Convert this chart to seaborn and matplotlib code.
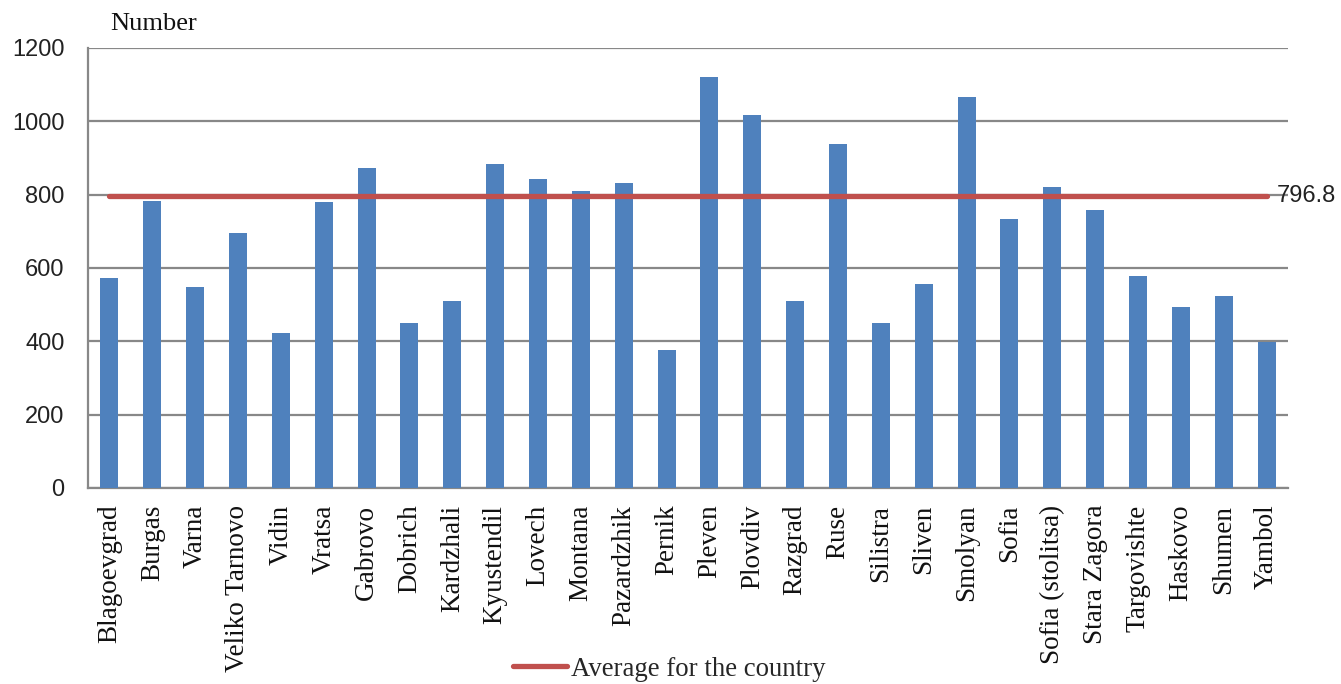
import matplotlib
matplotlib.use("Agg")
import matplotlib.pyplot as plt
import seaborn as sns
import pandas as pd

districts = [
    "Blagoevgrad", "Burgas", "Varna", "Veliko Tarnovo", "Vidin", "Vratsa",
    "Gabrovo", "Dobrich", "Kardzhali", "Kyustendil", "Lovech", "Montana",
    "Pazardzhik", "Pernik", "Pleven", "Plovdiv", "Razgrad", "Ruse",
    "Silistra", "Sliven", "Smolyan", "Sofia", "Sofia (stolitsa)",
    "Stara Zagora", "Targovishte", "Haskovo", "Shumen", "Yambol",
]
values = [
    573, 783, 549, 695, 423, 780, 874, 451, 510, 885, 843, 811,
    832, 377, 1122, 1017, 510, 937, 451, 556, 1066, 734, 821,
    758, 577, 494, 524, 397,
]
country_average = 796.8
y_ticks = [0, 200, 400, 600, 800, 1000, 1200]

df = pd.DataFrame({"district": districts, "value": values})

sns.set_theme(style="white")
plt.rcParams["font.family"] = ["Liberation Serif", "DejaVu Serif"]

fig = plt.figure(figsize=(13.41, 6.84), dpi=100)
ax = fig.add_axes([88 / 1341, 1 - 488 / 684, 1200 / 1341, 440 / 684])

grid_color = "#888888"
bar_color = "#4F81BD"
line_color = "#C0504D"

sns.barplot(data=df, x="district", y="value", color=bar_color, width=0.42,
            saturation=1, ax=ax, zorder=3, edgecolor="none")

ax.plot(range(len(districts)), [country_average] * len(districts),
        color=line_color, lw=3.8, solid_capstyle="round", zorder=4,
        label="Average for the country")

ax.set_xlim(-0.5, len(districts) - 0.5)
ax.set_ylim(0, 1200)
ax.set_yticks(y_ticks)
ax.set_yticklabels([str(t) for t in y_ticks], family="Liberation Sans",
                   fontsize=17, color="#222222")
ax.yaxis.grid(True, color=grid_color, lw=1.6, zorder=0)
ax.xaxis.grid(False)
ax.tick_params(axis="y", length=0, pad=17)
ax.tick_params(axis="x", length=0, pad=12)
ax.set_xticks(range(len(districts)))
ax.set_xticklabels(districts, rotation=90, fontsize=19.5, color="#111111",
                   family="Liberation Serif")
ax.set_xlabel("")
ax.set_ylabel("")

for side in ["top", "right"]:
    ax.spines[side].set_visible(False)
for side in ["left", "bottom"]:
    ax.spines[side].set_color(grid_color)
    ax.spines[side].set_linewidth(1.6)

ax.annotate(f"{country_average:g}", xy=(len(districts) - 1, country_average),
            xytext=(7, 0), textcoords="offset points", ha="left",
            va="center", family="Liberation Sans", fontsize=17,
            color="#222222", annotation_clip=False)

fig.text(110 / 1341, 1 - 24 / 684, "Number", ha="left", va="center",
         fontsize=19, family="Liberation Serif", color="#111111")

handles, labels = ax.get_legend_handles_labels()
fig.legend(handles, labels, loc="lower center", bbox_to_anchor=(0.499, -0.024),
           frameon=False, handlelength=2.0, handletextpad=0.15,
           borderpad=0.2, prop={"family": "Liberation Serif", "size": 19.3})

fig.savefig("out.png", dpi=100, facecolor="white")
